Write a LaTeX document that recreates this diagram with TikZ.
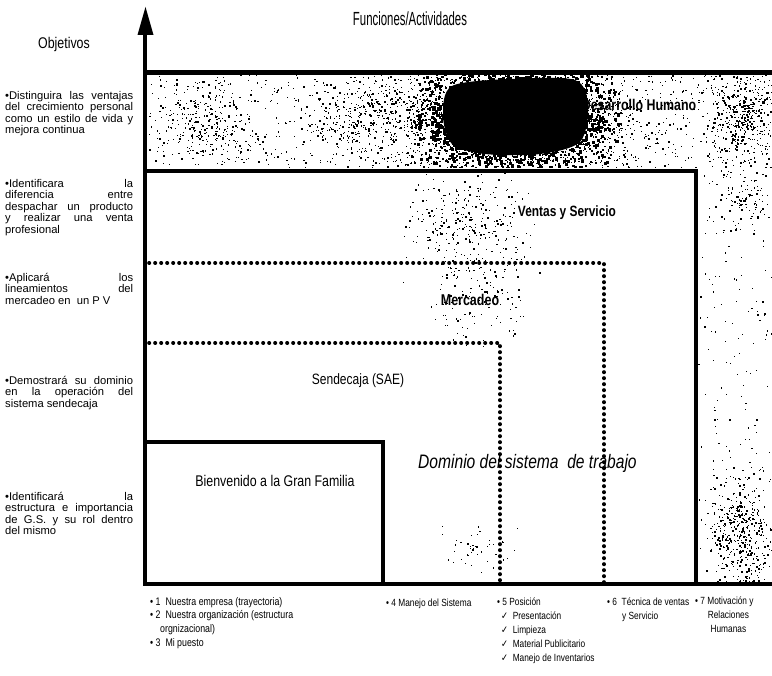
\documentclass[tikz,border=0pt]{standalone}
\usepackage{fontspec}
\setmainfont{Liberation Sans}
\newfontfamily\narrow{Liberation Sans}[FakeStretch=0.8]
\newfontfamily\narrowX{Liberation Sans}[FakeStretch=0.6]
\newfontfamily\dejavu{DejaVu Sans}[FakeStretch=0.8]
\newcommand\mydots[6]{%
  \foreach \k in {1,...,#5}{%
    \pgfmathsetmacro\sx{#1+(rnd-rnd)*#3}%
    \pgfmathsetmacro\sy{#2+(rnd-rnd)*#4}%
    \pgfmathsetmacro\ss{0.7+#6*rnd}%
    \fill (\sx,\sy) rectangle ++(\ss,\ss);}}
\newcommand\myunif[5]{%
  \foreach \k in {1,...,#5}{%
    \pgfmathsetmacro\sx{#1+rnd*#3}%
    \pgfmathsetmacro\sy{#2+rnd*#4}%
    \pgfmathsetmacro\ss{0.6+1.1*rnd}%
    \fill (\sx,\sy) rectangle ++(\ss,\ss);}}
\tikzset{
  frame/.style={line width=4.5pt},
  inner/.style={line width=3.8pt},
  dotline/.style={line width=3.6pt, line cap=round, dash pattern=on 0.4pt off 5.6pt},
  obj/.style={anchor=north west, inner sep=0pt, text width=128pt, align=justify,
    font=\fontsize{11.2}{11.5}\selectfont},
  lab/.style={inner sep=0pt, font=\narrow\fontsize{15.5}{17}\selectfont},
  blab/.style={inner sep=0pt, font=\narrow\bfseries\fontsize{15.5}{17}\selectfont},
  small/.style={anchor=north west, inner sep=0pt, font=\narrow\fontsize{10.4}{13.8}\selectfont, align=left},
}
\begin{document}
\begin{tikzpicture}[x=1pt,y=-1pt]
\useasboundingbox (0,0) rectangle (772,676);
\fill[white] (0,0) rectangle (772,676);
\pgfmathsetseed{4242}
% speckle noise, top band
\begin{scope}
  \clip (147,75) rectangle (772,168);
  \myunif{147}{75}{625}{93}{900}
  \mydots{205}{120}{55}{45}{220}{1.2}
  \mydots{360}{120}{70}{48}{300}{1.2}
  \mydots{515}{120}{175}{60}{1200}{1.4}
  \mydots{513}{118}{108}{56}{3400}{2.6}
  \mydots{740}{120}{40}{55}{380}{1.3}
  \fill plot[smooth cycle] coordinates {(452,86) (510,79) (575,80) (588,106) (580,142) (540,154) (485,154) (452,144) (443,115)};
\end{scope}
% right strip
\begin{scope}
  \clip (698,170) rectangle (772,582);
  \myunif{698}{170}{74}{412}{170}
  \mydots{740}{200}{30}{40}{100}{1.2}
  \mydots{740}{530}{35}{65}{420}{1.3}
\end{scope}
% centre
\begin{scope}
  \clip (147,174) rectangle (694,582);
  \mydots{470}{225}{75}{60}{300}{1.2}
  \mydots{478}{300}{55}{50}{120}{1.2}
  \mydots{480}{548}{45}{30}{45}{1.1}
\end{scope}
% axis
\draw[line width=4pt] (145,584) -- (145,30);
\fill (137.5,35) -- (145.5,7) -- (153.5,35) -- cycle;
% outer frame
\draw[frame] (143,72.5) -- (772,72.5);
\draw[frame] (143,584) -- (772,584);
% Ventas y Servicio box
\draw[inner] (145,171) -- (696,171) -- (696,584);
% dotted levels
\draw[dotline] (149,263) -- (604,263) -- (604,582);
\draw[dotline] (149,343) -- (500,343) -- (500,582);
% Bienvenido box
\draw[line width=3.2pt] (145,442) -- (383,442) -- (383,584);
% titles
\node[inner sep=0pt, font=\narrowX\fontsize{19}{21}\selectfont] (fun) at (410,19) {Funciones/Actividades};
\node[inner sep=0pt, font=\narrow\fontsize{15.5}{17}\selectfont] (obj) at (64,44) {Objetivos};
% inner labels
\node[blab] (dh) at (639,105) {Desarrollo Humano};
\node[blab, font=\narrow\bfseries\fontsize{14.9}{17}\selectfont] (vs) at (567,213) {Ventas y Servicio};
\node[blab, font=\narrow\bfseries\fontsize{15.6}{17}\selectfont] (me) at (470,300) {Mercadeo};
\node[lab, font=\narrow\fontsize{15}{17}\selectfont] (se) at (358,381) {Sendecaja (SAE)};
\node[lab] (bi) at (275,481) {Bienvenido a la Gran Familia};
\node[lab, anchor=west, font=\narrow\itshape\fontsize{19.5}{22}\selectfont] (do) at (418,463) {Dominio del sistema\ \ de trabajo};
% objectives
\node[obj] (o1) at (5,91) {•Distinguira las ventajas\linebreak del crecimiento personal\linebreak como un estilo de vida y\linebreak mejora continua};
\node[obj] (o2) at (5,179) {•Identificara la\linebreak diferencia entre\linebreak despachar un producto\linebreak y realizar una venta\linebreak profesional};
\node[obj] (o3) at (5,273) {•Aplicará los\linebreak lineamientos del\linebreak \mbox{mercadeo en\ \ un P V}};
\node[obj] (o4) at (5,376) {•Demostrará su dominio\linebreak en la operación del\linebreak sistema sendecaja};
\node[obj] (o5) at (5,492) {•Identificará la\linebreak estructura e importancia\linebreak de G.S. y su rol dentro\linebreak del mismo};
% bottom labels
\node[small, font=\narrow\fontsize{11}{13.8}\selectfont] (b1) at (150,597) {•\ 1\ \ Nuestra empresa (trayectoria)\\ •\ 2\ \ Nuestra organización (estructura\\ \hspace*{10pt}orgnizacional)\\ •\ 3\ \ Mi puesto};
\node[small] (b4) at (386,599) {•\ 4 Manejo del Sistema};
\node[small] (b5) at (497,598) {•\ 5 Posición\\ \hspace*{4pt}{\dejavu ✓}\ \ Presentación\\ \hspace*{4pt}{\dejavu ✓}\ \ Limpieza\\ \hspace*{4pt}{\dejavu ✓}\ \ Material Publicitario\\ \hspace*{4pt}{\dejavu ✓}\ \ Manejo de Inventarios};
\node[small] (b6) at (607,598) {•\ 6\ \ Técnica de ventas\\ \hspace*{15pt}y Servicio};
\node[small, align=center] (b7) at (695,597) {•\ 7 Motivación y\\ \hspace*{8pt}Relaciones\\ \hspace*{8pt}Humanas};
\end{tikzpicture}
\end{document}
